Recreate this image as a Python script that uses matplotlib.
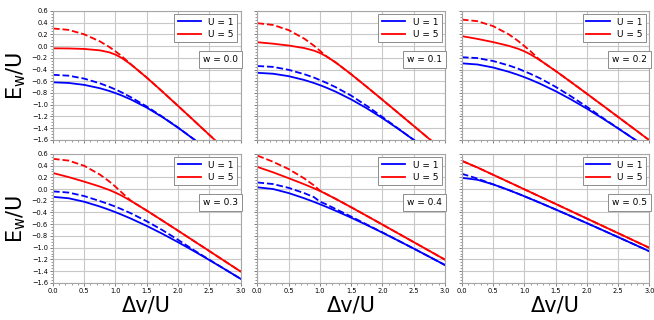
import matplotlib
matplotlib.use("Agg")
import matplotlib.pyplot as plt
from matplotlib.ticker import MultipleLocator

# Delta v / U sample points
dv = [0.0, 0.25, 0.5, 0.75, 0.9, 1.0, 1.1, 1.25, 1.5, 1.75, 2.0, 2.25, 2.5, 2.75, 3.0]
weights = [0.0, 0.1, 0.2, 0.3, 0.4, 0.5]

# exact ensemble energies (solid), one row per weight
exact_u1 = [
    [-0.618, -0.6288, -0.6617, -0.7187, -0.7653, -0.8019, -0.8429, -0.9127, -1.05, -1.2109, -1.3913, -1.5869, -1.7941, -2.0099, -2.2323],
    [-0.4562, -0.4715, -0.5134, -0.5784, -0.6283, -0.6662, -0.7078, -0.777, -0.9097, -1.0616, -1.2295, -1.4097, -1.5994, -1.7961, -1.9982],
    [-0.2944, -0.3142, -0.3652, -0.4382, -0.4913, -0.5305, -0.5727, -0.6414, -0.7694, -0.9123, -1.0676, -1.2325, -1.4047, -1.5823, -1.7641],
    [-0.1326, -0.157, -0.2169, -0.2979, -0.3543, -0.3948, -0.4376, -0.5057, -0.629, -0.7631, -0.9058, -1.0553, -1.2099, -1.3685, -1.53],
    [0.0292, 0.0003, -0.0686, -0.1577, -0.2173, -0.2591, -0.3025, -0.3701, -0.4887, -0.6138, -0.7439, -0.8781, -1.0152, -1.1547, -1.2959],
    [0.191, 0.1576, 0.0797, -0.0174, -0.0803, -0.1234, -0.1674, -0.2344, -0.3484, -0.4645, -0.5821, -0.7008, -0.8205, -0.9408, -1.0618],
]
exact_u5 = [
    [-0.0385, -0.0408, -0.0493, -0.0729, -0.1066, -0.1461, -0.2029, -0.3151, -0.5376, -0.7759, -1.0197, -1.2659, -1.5133, -1.7614, -2.01],
    [0.0654, 0.0407, 0.0092, -0.0345, -0.0763, -0.1179, -0.1733, -0.278, -0.4809, -0.6964, -0.9164, -1.1383, -1.3612, -1.5846, -1.8085],
    [0.1692, 0.1223, 0.0677, 0.004, -0.0461, -0.0897, -0.1436, -0.2409, -0.4241, -0.617, -0.8132, -1.0108, -1.2091, -1.4079, -1.607],
    [0.2731, 0.2038, 0.1263, 0.0424, -0.0158, -0.0614, -0.114, -0.2037, -0.3674, -0.5375, -0.7099, -0.8832, -1.057, -1.2311, -1.4055],
    [0.3769, 0.2853, 0.1848, 0.0809, 0.0145, -0.0332, -0.0844, -0.1666, -0.3107, -0.4581, -0.6066, -0.7557, -0.9049, -1.0544, -1.204],
    [0.4808, 0.3669, 0.2433, 0.1193, 0.0448, -0.005, -0.0547, -0.1295, -0.2539, -0.3786, -0.5033, -0.6281, -0.7528, -0.8776, -1.0025],
]

# approximate energies (dashed)
approx_u1 = [
    [-0.49, -0.505, -0.555, -0.635, -0.695, -0.74, -0.79, -0.875, -1.03, -1.205, -1.389, -1.586, -1.794, -2.01, -2.232],
    [-0.34, -0.355, -0.405, -0.48, -0.535, -0.58, -0.625, -0.70, -0.845, -1.02, -1.21, -1.405, -1.599, -1.796, -1.998],
    [-0.19, -0.205, -0.255, -0.33, -0.385, -0.43, -0.475, -0.55, -0.695, -0.86, -1.035, -1.222, -1.402, -1.582, -1.764],
    [-0.04, -0.06, -0.12, -0.205, -0.26, -0.30, -0.345, -0.415, -0.55, -0.70, -0.865, -1.04, -1.205, -1.368, -1.53],
    [0.112, 0.085, 0.02, -0.07, -0.135, -0.215, -0.26, -0.34, -0.47, -0.605, -0.74, -0.878, -1.015, -1.155, -1.296],
    [0.26, 0.178, 0.0797, -0.0174, -0.0803, -0.1234, -0.1674, -0.2344, -0.3484, -0.4645, -0.5821, -0.7008, -0.8205, -0.9408, -1.0618],
]
approx_u5 = [
    [0.30, 0.276, 0.20, 0.08, -0.015, -0.09, -0.172, -0.3151, -0.5376, -0.7759, -1.0197, -1.2659, -1.5133, -1.7614, -2.01],
    [0.39, 0.36, 0.272, 0.126, 0.01, -0.08, -0.1733, -0.278, -0.4809, -0.6964, -0.9164, -1.1383, -1.3612, -1.5846, -1.8085],
    [0.452, 0.424, 0.34, 0.20, 0.087, 0.0, -0.09, -0.2409, -0.4241, -0.617, -0.8132, -1.0108, -1.2091, -1.4079, -1.607],
    [0.515, 0.485, 0.396, 0.247, 0.13, 0.04, -0.06, -0.2037, -0.3674, -0.5375, -0.7099, -0.8832, -1.057, -1.2311, -1.4055],
    [0.57, 0.465, 0.34, 0.18, 0.065, -0.025, -0.0844, -0.1666, -0.3107, -0.4581, -0.6066, -0.7557, -0.9049, -1.0544, -1.204],
    [0.4808, 0.3669, 0.2433, 0.1193, 0.0448, -0.005, -0.0547, -0.1295, -0.2539, -0.3786, -0.5033, -0.6281, -0.7528, -0.8776, -1.0025],
]

fig, axes = plt.subplots(2, 3, figsize=(6.54, 3.2), dpi=100, sharex=True, sharey=True)
fig.subplots_adjust(left=0.081, right=0.993, top=0.966, bottom=0.116, wspace=0.09, hspace=0.108)

for i, ax in enumerate(axes.flat):
    w = weights[i]
    ax.plot(dv, exact_u1[i], color="blue", lw=1.3, label="U = 1")
    ax.plot(dv, exact_u5[i], color="red", lw=1.3, label="U = 5")
    ax.plot(dv, approx_u1[i], color="blue", lw=1.3, ls="--")
    ax.plot(dv, approx_u5[i], color="red", lw=1.3, ls="--")

    ax.set_xlim(0, 3.0)
    ax.set_ylim(-1.6, 0.6)
    ax.xaxis.set_major_locator(MultipleLocator(0.5))
    ax.xaxis.set_minor_locator(MultipleLocator(0.1))
    ax.yaxis.set_major_locator(MultipleLocator(0.2))
    ax.yaxis.set_minor_locator(MultipleLocator(0.05))
    ax.grid(True, which="major", color="#c8c8c8", lw=0.8)
    ax.tick_params(which="major", labelsize=4.8, length=2.2, width=0.5, color="0.3", pad=1.5)
    ax.tick_params(which="minor", length=1.1, width=0.4, color="0.3")
    for sp in ax.spines.values():
        sp.set_color("0.65")
        sp.set_linewidth(0.8)

    leg = ax.legend(loc="upper right", fontsize=6.5, fancybox=False, edgecolor="0.55",
                    framealpha=1, borderaxespad=0.35, handlelength=2.6, borderpad=0.4,
                    labelspacing=0.35)
    leg.get_frame().set_linewidth(0.7)
    ax.text(0.985, 0.655, f"w = {w:.1f}", transform=ax.transAxes, ha="right", va="top",
            fontsize=6.5, bbox=dict(boxstyle="square,pad=0.45", fc="white", ec="0.55", lw=0.7))

for ax in axes[1]:
    ax.set_xlabel("Δv/U", fontsize=15, labelpad=1)
for ax in axes[:, 0]:
    ax.set_ylabel("E$_\\mathrm{w}$/U", fontsize=15, labelpad=3)

fig.savefig("out.png", dpi=100)
